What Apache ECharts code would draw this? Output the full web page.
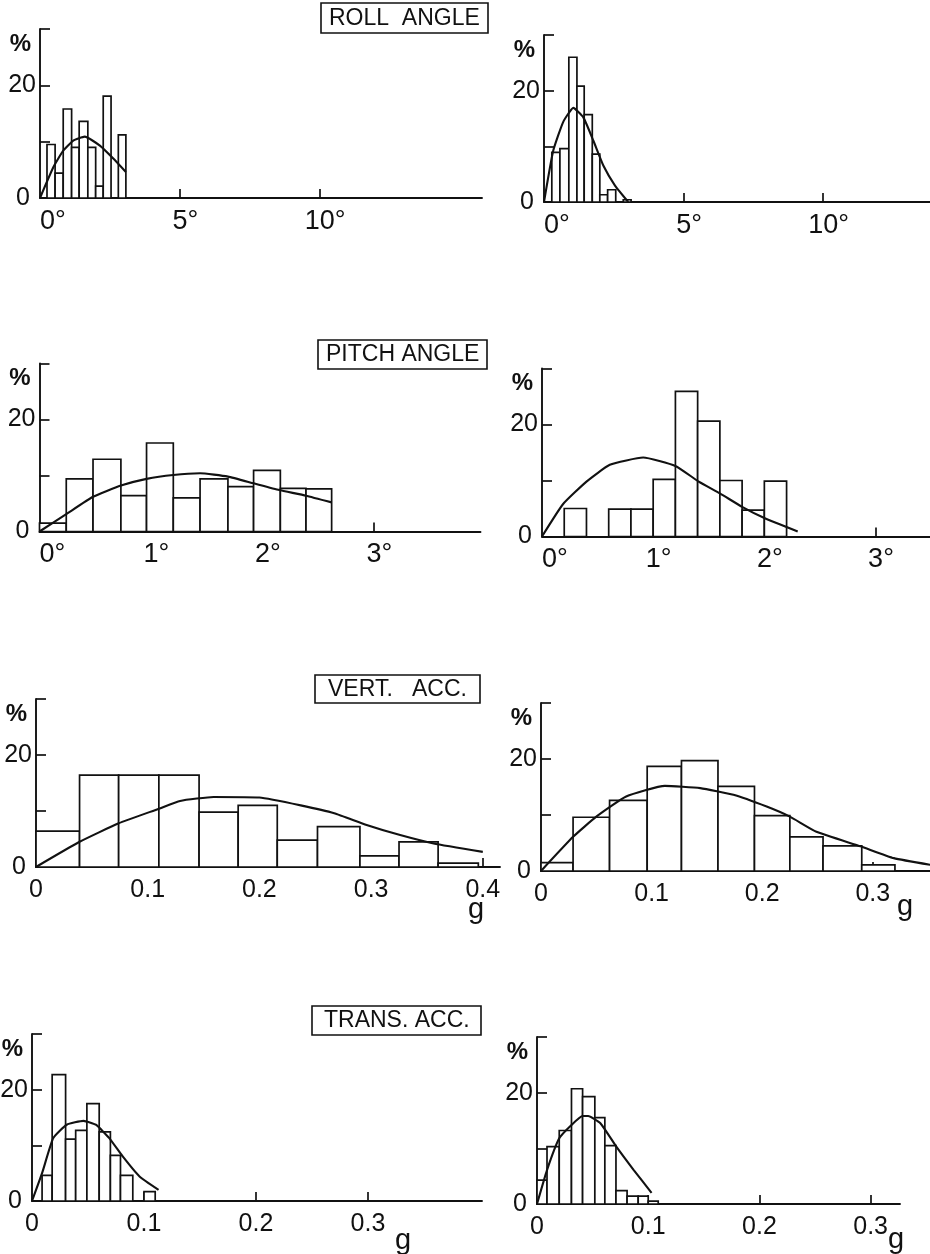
<!DOCTYPE html>
<html>
<head>
<meta charset="utf-8">
<script src="https://cdn.jsdelivr.net/npm/echarts@6/dist/echarts.min.js"></script>
<style>
  html, body { margin: 0; padding: 0; background: #fff; }
  #chart { width: 930px; height: 1254px; }
</style>
</head>
<body>
<div id="chart"></div>
<script>
// ---- Roll angle (degrees) ----
const rollLeftEdges  = [0, 0.25, 0.54, 0.83, 1.13, 1.40, 1.71, 1.99, 2.26, 2.54, 2.80, 3.07];
const rollLeftPct    = [0, 9.5, 4.4, 15.8, 9.0, 13.6, 9.0, 2.1, 18.1, 0, 11.2];
const rollLeftFitX   = [0, 0.48, 0.83, 1.19, 1.60, 2.14, 2.62, 3.07];
const rollLeftFitY   = [0, 5.5, 8.4, 10.2, 10.9, 9.3, 7.0, 4.6];

const rollRightEdges = [0, 0.28, 0.57, 0.89, 1.18, 1.44, 1.73, 2.00, 2.28, 2.57, 2.84, 3.12];
const rollRightPct   = [0, 8.9, 9.6, 26.0, 20.8, 15.7, 8.6, 1.3, 2.2, 0, 0.4];
const rollRightFitX  = [0, 0.33, 0.69, 1.05, 1.41, 1.77, 2.13, 2.55, 3.02];
const rollRightFitY  = [0, 9.2, 14.4, 16.9, 15.2, 11.0, 6.5, 2.9, 0];

// ---- Pitch angle (degrees) ----
const pitchLeftEdges  = [0, 0.24, 0.48, 0.73, 0.96, 1.20, 1.44, 1.69, 1.92, 2.16, 2.39, 2.62];
const pitchLeftPct    = [1.5, 9.4, 12.9, 6.4, 15.8, 6.0, 9.4, 8.0, 10.9, 7.7, 7.6];
const pitchLeftFitX   = [0, 0.24, 0.48, 0.73, 0.96, 1.20, 1.44, 1.69, 1.92, 2.15, 2.39, 2.62];
const pitchLeftFitY   = [0, 3.1, 6.2, 8.2, 9.4, 10.1, 10.4, 9.8, 8.6, 7.4, 6.4, 5.2];

const pitchRightEdges = [0, 0.2, 0.4, 0.6, 0.8, 1.0, 1.2, 1.4, 1.6, 1.8, 2.0, 2.2];
const pitchRightPct   = [0, 5.0, 0, 4.9, 4.9, 10.2, 25.9, 20.6, 10.0, 4.7, 9.9];
const pitchRightFitX  = [0, 0.19, 0.40, 0.61, 0.91, 1.20, 1.41, 1.60, 1.80, 2.00, 2.30];
const pitchRightFitY  = [0, 5.8, 9.8, 12.8, 14.1, 12.6, 9.8, 7.7, 5.3, 3.3, 0.9];

// ---- Vertical acceleration (g) ----
const vertLeftEdges  = [0, 0.039, 0.074, 0.110, 0.146, 0.181, 0.216, 0.252, 0.290, 0.325, 0.360, 0.396];
const vertLeftPct    = [6.4, 16.4, 16.4, 16.4, 9.8, 11.0, 4.8, 7.2, 2.0, 4.5, 0.7];
const vertLeftFitX   = [0, 0.039, 0.074, 0.110, 0.129, 0.159, 0.200, 0.237, 0.267, 0.296, 0.326, 0.356, 0.400];
const vertLeftFitY   = [0, 4.5, 7.8, 10.4, 11.8, 12.5, 12.4, 11.0, 9.6, 7.5, 5.7, 4.2, 2.7];

const vertRightEdges = [0, 0.029, 0.062, 0.096, 0.127, 0.160, 0.193, 0.225, 0.255, 0.290, 0.320];
const vertRightPct   = [1.5, 9.6, 12.6, 18.7, 19.7, 15.1, 9.9, 6.1, 4.5, 1.1];
const vertRightFitX  = [0, 0.029, 0.050, 0.077, 0.112, 0.144, 0.174, 0.204, 0.225, 0.249, 0.289, 0.319, 0.352];
const vertRightFitY  = [0, 6.1, 9.7, 13.3, 15.2, 14.8, 13.6, 11.5, 9.7, 7.0, 4.4, 2.3, 1.1];

// ---- Transverse acceleration (g) ----
const transLeftEdges  = [0, 0.009, 0.018, 0.030, 0.039, 0.049, 0.060, 0.070, 0.079, 0.090, 0.100, 0.110];
const transLeftPct    = [0, 4.6, 22.7, 11.1, 12.7, 17.5, 12.4, 8.2, 4.6, 0, 1.7];
const transLeftFitX   = [0, 0.009, 0.019, 0.031, 0.046, 0.057, 0.069, 0.081, 0.096, 0.113];
const transLeftFitY   = [0, 5.0, 11.3, 13.7, 14.4, 13.7, 11.3, 8.0, 4.4, 2.0];

const transRightEdges = [0, 0.009, 0.020, 0.031, 0.041, 0.052, 0.061, 0.071, 0.081, 0.091, 0.100, 0.109];
const transRightPct   = [4.3, 10.3, 13.2, 20.7, 19.3, 15.5, 10.5, 2.4, 1.4, 1.4, 0.5];
const transRightFitX  = [0, 0.009, 0.020, 0.031, 0.041, 0.046, 0.057, 0.071, 0.087, 0.103];
const transRightFitY  = [0, 6.1, 11.8, 14.2, 15.8, 15.8, 14.5, 10.4, 6.1, 2.0];

// ---- Axis tick labels ----
const rollTicks  = [0, 5, 10];
const pitchTicks = [0, 1, 2, 3];
const vertLeftTicks  = [0, 0.1, 0.2, 0.3, 0.4];
const vertRightTicks = [0, 0.1, 0.2, 0.3];
const transTicks = [0, 0.1, 0.2, 0.3];
const pctTicks   = [0, 20];

const panelTitles = ['ROLL  ANGLE', 'PITCH ANGLE', 'VERT.   ACC.', 'TRANS. ACC.'];

const FONT = '"Liberation Sans", Arial, sans-serif';
const INK = '#111';

// plot frame of each panel (pixels) and the axis range it spans
const panels = [
  { box: [40, 29, 442, 169],   xMax: 15.8,  edges: rollLeftEdges,  pct: rollLeftPct,  fx: rollLeftFitX,  fy: rollLeftFitY,  ticks: rollTicks,  unit: 'deg' },
  { box: [544, 35, 386, 167],  xMax: 13.83, edges: rollRightEdges, pct: rollRightPct, fx: rollRightFitX, fy: rollRightFitY, ticks: rollTicks,  unit: 'deg' },
  { box: [39.5, 363.5, 441, 168], xMax: 3.955, edges: pitchLeftEdges,  pct: pitchLeftPct,  fx: pitchLeftFitX,  fy: pitchLeftFitY,  ticks: pitchTicks, unit: 'deg' },
  { box: [542, 368.5, 388, 168],  xMax: 3.49,  edges: pitchRightEdges, pct: pitchRightPct, fx: pitchRightFitX, fy: pitchRightFitY, ticks: pitchTicks, unit: 'deg' },
  { box: [36, 699, 464, 168],  xMax: 0.4154, edges: vertLeftEdges,  pct: vertLeftPct,  fx: vertLeftFitX,  fy: vertLeftFitY,  ticks: vertLeftTicks,  unit: 'g', gGap: -32, gPad: 28 },
  { box: [541, 703, 389, 168], xMax: 0.3517, edges: vertRightEdges, pct: vertRightPct, fx: vertRightFitX, fy: vertRightFitY, ticks: vertRightTicks, unit: 'g', gGap: -33, gPad: 21 },
  { box: [32, 1034, 450, 167],  xMax: 0.4018, edges: transLeftEdges,  pct: transLeftPct,  fx: transLeftFitX,  fy: transLeftFitY,  ticks: transTicks, unit: 'g', gGap: -87, gPad: 25 },
  { box: [537, 1037, 363, 167], xMax: 0.3264, edges: transRightEdges, pct: transRightPct, fx: transRightFitX, fy: transRightFitY, ticks: transTicks, unit: 'g', gGap: -12, gPad: 21 }
];

// labelled boxes above the left-hand panels
const titleBoxes = [
  { left: 321, top: 3,    pad: [4, 8, 3, 8] },
  { left: 318, top: 340,  pad: [3, 8, 3, 8] },
  { left: 315, top: 675,  pad: [3, 13, 2, 13] },
  { left: 312, top: 1006, pad: [3, 12, 3, 12] }
];

function histogramRect(params, api) {
  const v = api.value(2);
  if (!v) return null;
  const a = api.coord([api.value(0), 0]);
  const b = api.coord([api.value(1), v]);
  return {
    type: 'rect',
    shape: { x: a[0], y: b[1], width: b[0] - a[0], height: a[1] - b[1] },
    style: { fill: '#fff', stroke: INK, lineWidth: 1.7 }
  };
}

const grid = [], xAxis = [], yAxis = [], series = [];

panels.forEach((p, i) => {
  grid.push({ left: p.box[0], top: p.box[1], width: p.box[2], height: p.box[3], outerBoundsMode: 'none', containLabel: false });

  const isDeg = p.unit === 'deg';
  xAxis.push({
    gridIndex: i, type: 'value', min: 0, max: p.xMax,
    axisLine: { show: true, onZero: false, lineStyle: { color: INK, width: 1.9 } },
    axisTick: { show: true, inside: true, length: 9, customValues: p.ticks.filter(t => t > 0),
                lineStyle: { color: INK, width: 1.7 } },
    axisLabel: {
      show: true, customValues: p.ticks, margin: isDeg ? 10 : 11,
      color: INK, fontFamily: FONT, fontSize: isDeg ? 27 : 25,
      alignMinLabel: isDeg ? 'left' : null,
      hideOverlap: false,
      formatter: v => isDeg ? (v === 0 ? '0°' : '{n|' + v + '°}') : (v === 0 ? '0' : v.toFixed(1)),
      rich: { n: { padding: [0, 0, 0, 11] } }
    },
    splitLine: { show: false },
    name: isDeg ? '' : 'g', nameLocation: 'end', nameGap: p.gGap || 0,
    nameMoveOverlap: false,
    nameTextStyle: { color: INK, fontFamily: FONT, fontSize: 29, align: 'left', verticalAlign: 'top',
                     padding: [p.gPad || 0, 0, 0, 0] }
  });

  yAxis.push({
    gridIndex: i, type: 'value', min: 0, max: 30, interval: 10,
    axisLine: { show: true, lineStyle: { color: INK, width: 1.9 } },
    axisTick: { show: true, inside: true, length: 10, lineStyle: { color: INK, width: 1.7 } },
    axisLabel: {
      show: true, margin: 4, color: INK, fontFamily: FONT, fontSize: 25,
      formatter: v => pctTicks.indexOf(v) < 0 ? '' : (v === 0 ? '{z|0}' : String(v)),
      rich: { z: { padding: [0, 6, 0, 0] } }
    },
    splitLine: { show: false },
    name: '%', nameLocation: 'end', nameGap: -3,
    nameMoveOverlap: false,
    nameTextStyle: { color: INK, fontFamily: FONT, fontSize: 24, fontWeight: 'bold',
                     align: 'right', verticalAlign: 'top', padding: [0, 9, 0, 0] }
  });

  series.push({
    type: 'custom', xAxisIndex: i, yAxisIndex: i, silent: true, z: 2,
    renderItem: histogramRect,
    encode: { x: [0, 1], y: 2 },
    data: p.pct.map((v, k) => [p.edges[k], p.edges[k + 1], v])
  });
  series.push({
    type: 'line', xAxisIndex: i, yAxisIndex: i, silent: true, z: 3,
    smooth: 0.15, showSymbol: false, symbol: 'none',
    lineStyle: { color: INK, width: 2.1 },
    data: p.fx.map((x, k) => [x, p.fy[k]])
  });
});

const title = panelTitles.map((t, k) => ({
  text: t, left: titleBoxes[k].left, top: titleBoxes[k].top,
  padding: titleBoxes[k].pad, borderColor: INK, borderWidth: 1.6,
  textStyle: { color: INK, fontFamily: FONT, fontSize: 23, fontWeight: 'normal', lineHeight: 23 }
}));

const chart = echarts.init(document.getElementById('chart'), null, { renderer: 'canvas' });
chart.setOption({
  animation: false,
  backgroundColor: '#fff',
  title, grid, xAxis, yAxis, series
});
</script>
</body>
</html>
